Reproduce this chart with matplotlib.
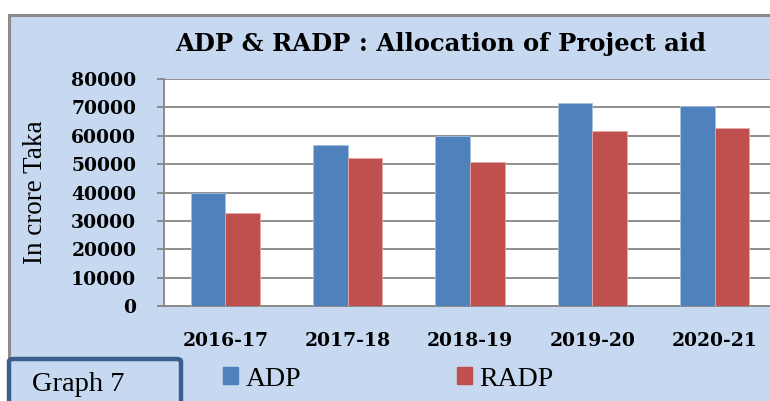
import numpy as np
import matplotlib.pyplot as plt
from matplotlib.patches import Rectangle, FancyBboxPatch

years = ["2016-17", "2017-18", "2018-19", "2019-20", "2020-21"]
adp = [40000, 56800, 60000, 71700, 70500]
radp = [32600, 52000, 50800, 61700, 62800]
yticks = [0, 10000, 20000, 30000, 40000, 50000, 60000, 70000, 80000]

blue = "#4F81BD"
red = "#C0504D"
bg = "#C6D9F0"
serif = "Liberation Serif"
wide_serif = "DejaVu Serif"   # wider face, closer to the stretched bold text

fig = plt.figure(figsize=(7.7, 4.01), dpi=100)
fig.patch.set_facecolor("white")

# chart area background + border (cropped on the right/bottom)
fig.patches.append(Rectangle((8.5/770, -0.05), 1.0, 1 - 14.5/401 + 0.05, transform=fig.transFigure,
                             facecolor=bg, edgecolor="#8C8C8C", lw=2.2, zorder=-10))

ax = fig.add_axes([164/770, 1 - 306/401, 612/770, (306 - 79)/401])
ax.set_zorder(2)
ax.set_facecolor("white")
x = np.arange(len(years))
w = 0.283
ax.bar(x - w/2, adp, w, color=blue, edgecolor="#A7C0E0", lw=0.6, zorder=3)
ax.bar(x + w/2, radp, w, color=red, edgecolor="#E4AAA8", lw=0.6, zorder=3)

ax.set_xlim(-0.5, 4.5)
ax.set_ylim(0, 80000)
ax.set_yticks(yticks)
ax.set_yticklabels([str(v) for v in yticks], fontfamily=wide_serif, fontweight="bold", fontsize=13.5)
ax.set_xticks(x)
ax.set_xticklabels(years, fontfamily=wide_serif, fontweight="bold", fontsize=13.5)
ax.yaxis.grid(True, color="#8E8E8E", lw=1.4, zorder=0)
ax.set_axisbelow(True)
for s in ["top", "right"]:
    ax.spines[s].set_visible(False)
ax.spines["left"].set_color("#8A8A8A")
ax.spines["bottom"].set_color("#8A8A8A")
ax.spines["left"].set_linewidth(1.4)
ax.spines["bottom"].set_linewidth(1.4)
ax.tick_params(axis="y", length=5, color="#8A8A8A", width=1.4, pad=15)
ax.tick_params(axis="x", length=0, pad=19)

ax.set_ylabel("In crore Taka", fontfamily=serif, fontsize=19.5)
ax.yaxis.set_label_coords(-0.19, 0.5)

fig.text(441/770, 1 - 51/401, "ADP & RADP : Allocation of Project aid", ha="center", va="baseline",
         fontfamily=wide_serif, fontweight="bold", fontsize=17.5)

# Graph 7 box
fig.patches.append(FancyBboxPatch((9/770, -0.05), 172/770, 42/401 + 0.05, transform=fig.transFigure,
                                  boxstyle="round,pad=0,rounding_size=0.006",
                                  facecolor=bg, edgecolor="#3A5F8F", lw=3.2, zorder=5))
fig.text(32/770, 1 - 391/401, "Graph 7", ha="left", va="baseline", fontfamily=serif, fontsize=20.5, zorder=6)

# legend
h1 = Rectangle((0, 0), 1, 1, color=blue)
h2 = Rectangle((0, 0), 1, 1, color=red)
fig.legend([h1, h2], ["ADP", "RADP"], loc="center left", bbox_to_anchor=(212/770, 1 - 379/401),
           ncol=2, frameon=False, prop={"family": serif, "size": 20}, handlelength=0.55,
           handleheight=0.55, handletextpad=0.25, columnspacing=5.6, borderaxespad=0)

fig.savefig("out.png", dpi=100)
